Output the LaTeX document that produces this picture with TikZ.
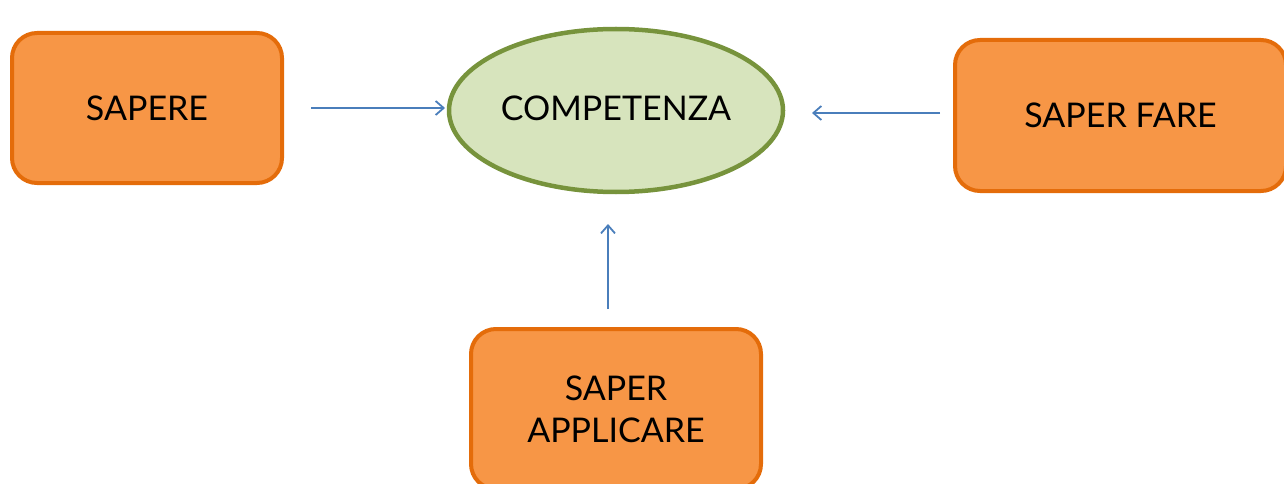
\documentclass[tikz,border=0pt]{standalone}
\usepackage{fontspec}
\setmainfont{Lato}
\usetikzlibrary{shapes.geometric,arrows.meta}
\definecolor{boxfill}{HTML}{F79646}
\definecolor{boxline}{HTML}{E46C0A}
\definecolor{ellfill}{HTML}{D7E4BD}
\definecolor{ellline}{HTML}{77933C}
\definecolor{arrcol}{HTML}{4A7EBB}
\tikzset{
  orangebox/.style={draw=boxline, fill=boxfill, line width=4pt, rounded corners=25pt,
    inner sep=0pt, align=center, font=\fontsize{34}{42}\selectfont},
  compell/.style={ellipse, draw=ellline, fill=ellfill, line width=4.5pt, inner sep=0pt,
    minimum width=334pt, minimum height=163pt, font=\fontsize{34}{42}\selectfont},
  arr/.style={draw=arrcol, line width=1.8pt, -{Straight Barb[length=8pt,width=14pt,line width=1.8pt]}}
}
\begin{document}
\begin{tikzpicture}[x=1pt,y=-1pt]
\useasboundingbox (0,0) rectangle (1284,484);
\node[orangebox, minimum width=270pt, minimum height=150pt] (sapere) at (147,108) {SAPERE};
\node[orangebox, minimum width=331pt, minimum height=151pt] (fare) at (1120.5,115.5) {SAPER FARE};
\node[orangebox, minimum width=290pt, minimum height=160pt] (appl) at (616,409) {SAPER\\APPLICARE};
\node[compell] (comp) at (616,110.5) {\makebox[0pt]{\raisebox{5pt}{COMPETENZA}}};
\coordinate (a1s) at (311,108);
\coordinate (a1e) at (445,108);
\coordinate (a2s) at (940,113);
\coordinate (a2e) at (812,113);
\coordinate (a3s) at (608,309);
\coordinate (a3e) at (608,224);
\draw[arr] (a1s) -- (a1e);
\draw[arr] (a2s) -- (a2e);
\draw[arr] (a3s) -- (a3e);
\end{tikzpicture}
\end{document}
